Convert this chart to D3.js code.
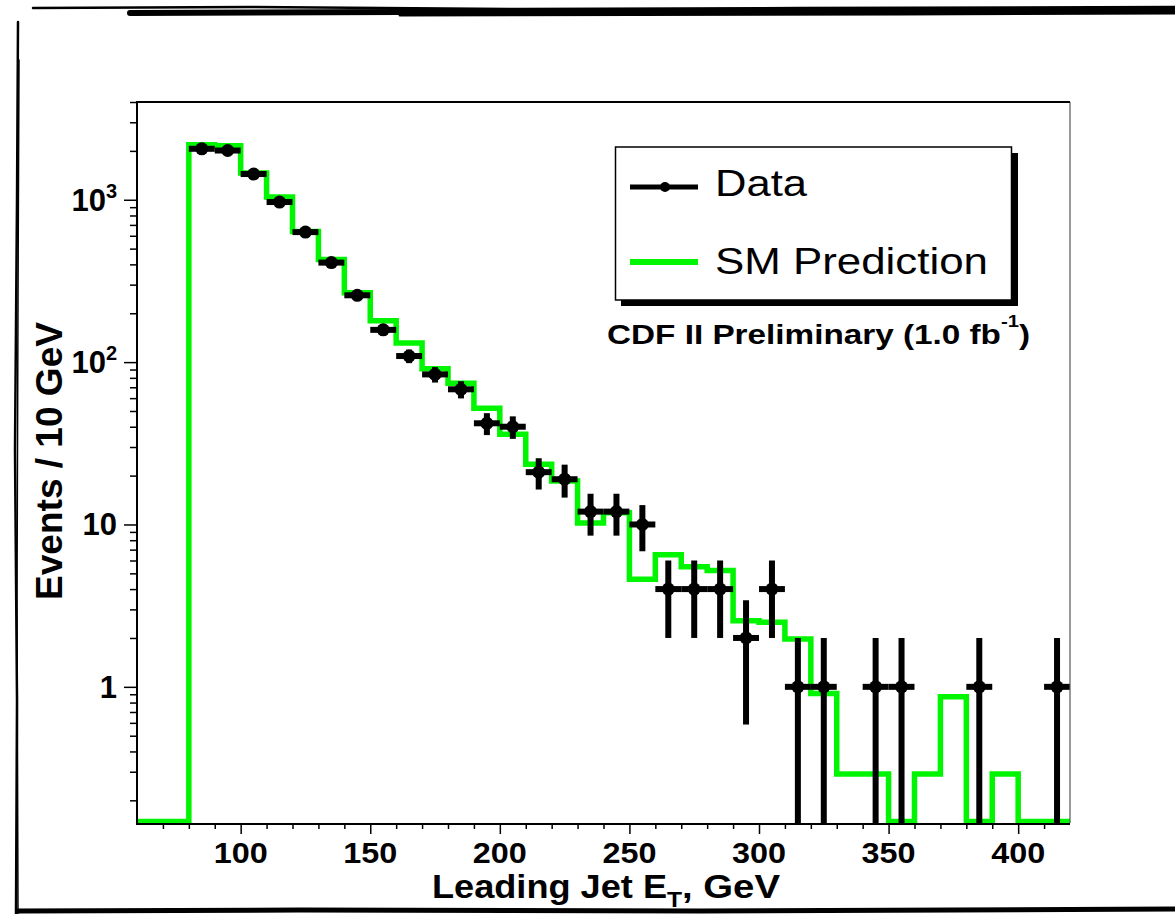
<!DOCTYPE html>
<html>
<head>
<meta charset="utf-8">
<script src="https://cdn.jsdelivr.net/npm/d3@7"></script>
<style>
  body { margin: 0; background: #fff; }
  svg { display: block; }
  text { font-family: "Liberation Sans", Arial, Helvetica, sans-serif; fill: #000; }
</style>
</head>
<body>
<div id="chart"></div>
<script>
// histogram bins (lower edge, 10 GeV wide)
const binLow = [60, 70, 80, 90, 100, 110, 120, 130, 140, 150, 160, 170, 180, 190, 200, 210, 220, 230,
                240, 250, 260, 270, 280, 290, 300, 310, 320, 330, 340, 350, 360, 370, 380, 390, 400, 410];
const smPrediction = [0, 0, 2180, 2150, 1460, 1040, 638, 428, 267, 180, 131, 91, 74, 52, 36, 23.5, 18.5, 10.2,
                      11.8, 4.6, 6.5, 5.5, 5.2, 2.55, 2.5, 1.97, 0.91, 0.29, 0.29, 0, 0.29, 0.87, 0, 0.29, 0, 0];

// data points (bin centre, events)
const dataCenter = [85, 95, 105, 115, 125, 135, 145, 155, 165, 175, 185, 195, 205, 215, 225, 235, 245, 255,
                    265, 275, 285, 295, 305, 315, 325, 345, 355, 385, 415];
const dataCount = [2060, 2010, 1440, 968, 632, 410, 258, 158, 109, 84, 68, 42, 40, 21, 19, 12, 12, 10,
                   4, 4, 4, 2, 4, 1, 1, 1, 1, 1, 1];

// axis ticks
const xMajorTicks = [100, 150, 200, 250, 300, 350, 400];
const xTickLabels = ["100", "150", "200", "250", "300", "350", "400"];
const xMinorTicks = [70, 80, 90, 110, 120, 130, 140, 160, 170, 180, 190, 210, 220, 230, 240, 260, 270, 280, 290,
                     310, 320, 330, 340, 360, 370, 380, 390, 410];
const yMajorTicks = [1, 10, 100, 1000];
const yTickBase = ["1", "10", "10", "10"];
const yTickExp = ["", "", "2", "3"];
const yMinorTicks = [0.2, 0.3, 0.4, 0.5, 0.6, 0.7, 0.8, 0.9, 2, 3, 4, 5, 6, 7, 8, 9, 20, 30, 40, 50, 60, 70, 80, 90,
                     200, 300, 400, 500, 600, 700, 800, 900, 2000, 3000, 4000];

const GREEN = "#00f500";

class JetEtPlot {

    constructor(_config) {
        this.config = {
            parentElement: _config.parentElement,
            containerWidth: _config.containerWidth || 1175,
            containerHeight: _config.containerHeight || 914,
            margin: _config.margin || {top: 102, right: 105, bottom: 91, left: 137}
        }
        this.initVis();
    }

    initVis() {
        let vis = this;

        vis.width = vis.config.containerWidth - vis.config.margin.left - vis.config.margin.right;
        vis.height = vis.config.containerHeight - vis.config.margin.top - vis.config.margin.bottom;

        vis.svg = d3.select(vis.config.parentElement)
            .append("svg")
            .attr("width", vis.config.containerWidth)
            .attr("height", vis.config.containerHeight);

        vis.xScale = d3.scaleLinear()
            .domain([60, 420])
            .range([0, vis.width]);

        vis.yMin = 0.145;
        vis.yScale = d3.scaleLog()
            .domain([vis.yMin, 4000])
            .range([vis.height, 0]);

        vis.chart = vis.svg.append("g")
            .attr("transform", `translate(${vis.config.margin.left},${vis.config.margin.top})`);

        vis.drawBorder();
    }

    // rough hand drawn frame around the picture
    drawBorder() {
        let vis = this;
        const strokes = [
            {d: "M33,8 L250,7 L520,9 L800,8 L1175,7", w: 2.5},
            {d: "M130,13 L400,12 L700,11 L1000,10 L1175,10", w: 6},
            {d: "M400,15 L900,14 L1175,13", w: 3},
            {d: "M18,22 L17,200 L15,450 L17,700 L16,914", w: 2.5},
            {d: "M19,60 L18,300 L17,600 L18,914", w: 1.5},
            {d: "M18,911 L300,910 L700,911 L1175,909", w: 5}
        ];
        vis.svg.append("g")
            .selectAll("path")
            .data(strokes)
            .join("path")
            .attr("d", d => d.d)
            .attr("fill", "none")
            .attr("stroke", "#000")
            .attr("stroke-width", d => d.w)
            .attr("stroke-linecap", "round");
    }

    yClamp(v) {
        let vis = this;
        return vis.yScale(Math.max(v, vis.yMin));
    }

    addText(g, str, x, y, size, weight, anchor, len) {
        const t = g.append("text")
            .attr("x", x)
            .attr("y", y)
            .attr("font-size", size)
            .attr("font-weight", weight)
            .attr("text-anchor", anchor)
            .text(str);
        if (len) t.attr("textLength", len).attr("lengthAdjust", "spacingAndGlyphs");
        return t;
    }

    renderVis() {
        let vis = this;

        // SM prediction histogram (empty bins sit just above the x axis)
        const histPts = binLow.map((b, i) => [b, smPrediction[i]]);
        histPts.push([420, smPrediction[smPrediction.length - 1]]);
        const histLine = d3.line()
            .x(d => vis.xScale(d[0]))
            .y(d => d[1] <= vis.yMin ? vis.height - 1.5 : vis.yScale(d[1]))
            .curve(d3.curveStepAfter);

        vis.chart.append("path")
            .attr("d", histLine(histPts))
            .attr("fill", "none")
            .attr("stroke", GREEN)
            .attr("stroke-width", 5.5)
            .attr("stroke-linejoin", "miter");

        // data with poisson errors
        const pts = dataCenter.map((c, i) => ({c: c, n: dataCount[i]}));
        const dataG = vis.chart.append("g");

        dataG.selectAll(".xerr")
            .data(pts)
            .join("line")
            .attr("class", "xerr")
            .attr("x1", d => vis.xScale(d.c - 5))
            .attr("x2", d => vis.xScale(Math.min(d.c + 5, 420)))
            .attr("y1", d => vis.yScale(d.n))
            .attr("y2", d => vis.yScale(d.n))
            .attr("stroke", "#000")
            .attr("stroke-width", 6);

        dataG.selectAll(".yerr")
            .data(pts)
            .join("line")
            .attr("class", "yerr")
            .attr("x1", d => vis.xScale(d.c))
            .attr("x2", d => vis.xScale(d.c))
            .attr("y1", d => vis.yClamp(d.n - Math.sqrt(d.n)))
            .attr("y2", d => vis.yScale(d.n + Math.sqrt(d.n)))
            .attr("stroke", "#000")
            .attr("stroke-width", 6);

        dataG.selectAll(".pt")
            .data(pts)
            .join("circle")
            .attr("class", "pt")
            .attr("cx", d => vis.xScale(d.c))
            .attr("cy", d => vis.yScale(d.n))
            .attr("r", 6.5)
            .attr("fill", "#000");

        // axes
        const xMajor = d3.axisBottom(vis.xScale).tickValues(xMajorTicks).tickSize(11).tickFormat("");
        const xMinor = d3.axisBottom(vis.xScale).tickValues(xMinorTicks).tickSize(6).tickFormat("");
        const yMajor = d3.axisLeft(vis.yScale).tickValues(yMajorTicks).tickSize(13).tickFormat("");
        const yMinor = d3.axisLeft(vis.yScale).tickValues(yMinorTicks).tickSize(7).tickFormat("");

        [xMajor, xMinor].forEach(ax => {
            vis.chart.append("g")
                .attr("transform", `translate(0,${vis.height})`)
                .call(ax)
                .call(g => g.select(".domain").remove())
                .selectAll("line").attr("stroke-width", 1.5);
        });
        [yMajor, yMinor].forEach(ax => {
            vis.chart.append("g")
                .call(ax)
                .call(g => g.select(".domain").remove())
                .selectAll("line").attr("stroke-width", 1.5);
        });

        // frame
        vis.chart.append("line")
            .attr("x1", vis.width).attr("x2", vis.width)
            .attr("y1", 0).attr("y2", vis.height)
            .attr("stroke", "#555").attr("stroke-width", 1.2);
        vis.chart.append("path")
            .attr("d", `M${vis.width},0 H0 V${vis.height + 1} H${vis.width}`)
            .attr("fill", "none")
            .attr("stroke", "#000")
            .attr("stroke-width", 2);

        // tick labels
        const labG = vis.chart.append("g");
        xMajorTicks.forEach((v, i) => {
            vis.addText(labG, xTickLabels[i], vis.xScale(v), vis.height + 40, 30, "bold", "middle", 54);
        });
        yMajorTicks.forEach((v, i) => {
            const t = labG.append("text")
                .attr("x", -20)
                .attr("y", vis.yScale(v) + 11)
                .attr("font-size", 31)
                .attr("font-weight", "bold")
                .attr("text-anchor", "end");
            t.append("tspan").text(yTickBase[i]);
            if (yTickExp[i]) {
                t.append("tspan").attr("font-size", 20).attr("dy", -13).text(yTickExp[i]);
            }
        });

        // axis titles
        const tx = vis.svg.append("g");
        vis.addText(tx, "Leading Jet E", 432, 898, 34, "bold", "start", 235);
        vis.addText(tx, "T", 667, 907, 22, "bold", "start", 15);
        vis.addText(tx, ", GeV", 682, 898, 34, "bold", "start", 98);

        tx.append("text")
            .attr("transform", "translate(62,461) rotate(-90)")
            .attr("text-anchor", "middle")
            .attr("font-size", 36)
            .attr("font-weight", "bold")
            .attr("textLength", 278)
            .attr("lengthAdjust", "spacingAndGlyphs")
            .text("Events / 10 GeV");

        vis.renderLegend();
    }

    renderLegend() {
        let vis = this;
        const lg = vis.svg.append("g");

        lg.append("rect")
            .attr("x", 621).attr("y", 153)
            .attr("width", 397).attr("height", 153)
            .attr("fill", "#000");
        lg.append("rect")
            .attr("x", 615.5).attr("y", 147)
            .attr("width", 396).attr("height", 153)
            .attr("fill", "#fff")
            .attr("stroke", "#000")
            .attr("stroke-width", 1.5);

        lg.append("line")
            .attr("x1", 630).attr("x2", 698).attr("y1", 187).attr("y2", 187)
            .attr("stroke", "#000").attr("stroke-width", 5);
        lg.append("circle")
            .attr("cx", 665).attr("cy", 187).attr("r", 5)
            .attr("fill", "#000");
        vis.addText(lg, "Data", 715, 196, 37, "normal", "start", 92);

        lg.append("line")
            .attr("x1", 630).attr("x2", 698).attr("y1", 262).attr("y2", 262)
            .attr("stroke", GREEN).attr("stroke-width", 6);
        vis.addText(lg, "SM Prediction", 715, 274, 37, "normal", "start", 273);

        // luminosity label, superscript kept inside the same text
        const lum = lg.append("text")
            .attr("x", 607)
            .attr("y", 344)
            .attr("font-size", 28)
            .attr("font-weight", "bold")
            .attr("textLength", 423)
            .attr("lengthAdjust", "spacingAndGlyphs");
        lum.append("tspan").text("CDF II Preliminary (1.0 fb");
        lum.append("tspan").attr("font-size", 17).attr("dy", -17).text("-1");
        lum.append("tspan").attr("dy", 17).text(")");
    }
}

const plot = new JetEtPlot({parentElement: "#chart"});
plot.renderVis();
</script>
</body>
</html>
